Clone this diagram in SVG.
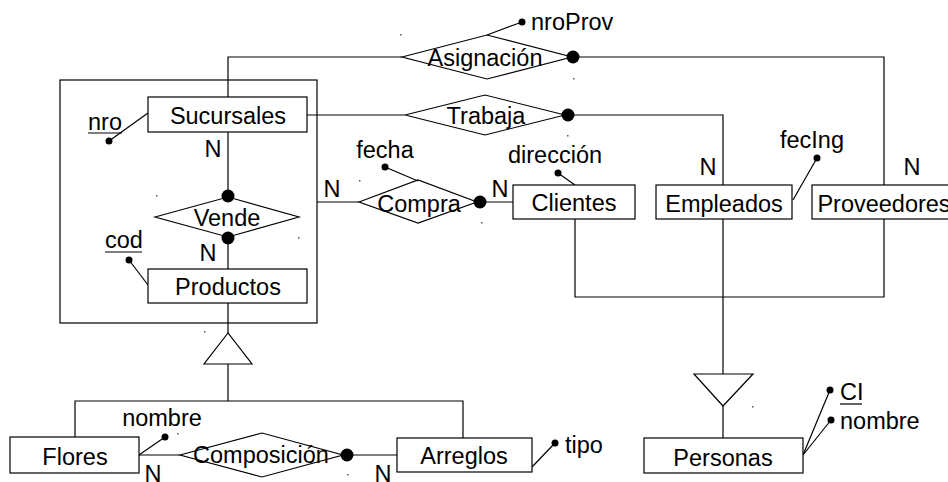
<svg xmlns="http://www.w3.org/2000/svg" width="948" height="482" viewBox="0 0 948 482">
<style>
text{font-family:"Liberation Sans",Arial,sans-serif;font-size:23.5px;fill:#000}
.c{text-anchor:middle}
.box{fill:#fff;stroke:#000;stroke-width:1.2}
.ln{fill:none;stroke:#000;stroke-width:1.2}
.dot{fill:#000}
.sp{fill:#555}
.u{stroke:#000;stroke-width:1.2}
</style>
<rect width="948" height="482" fill="#fff"/>
<g id="aggregation"><rect x="60" y="80" width="257" height="243" class="ln"/></g>
<g id="connectors">
<polyline class="ln" points="228,97 228,57 402,57"/>
<polyline class="ln" points="573,57 884,57 884,185"/>
<line class="ln" x1="307" y1="115" x2="405" y2="115"/>
<polyline class="ln" points="568,115 723,115 723,185"/>
<line class="ln" x1="228" y1="132" x2="228" y2="196"/>
<line class="ln" x1="228" y1="238" x2="228" y2="269"/>
<line class="ln" x1="317" y1="202" x2="359" y2="202"/>
<line class="ln" x1="480" y1="202" x2="513" y2="202"/>
<line class="ln" x1="228" y1="303" x2="228" y2="333"/>
<polyline class="ln" points="228,364 228,401"/>
<polyline class="ln" points="75,437 75,401 463,401 463,438"/>
<line class="ln" x1="139" y1="455" x2="180" y2="455"/>
<line class="ln" x1="347" y1="455" x2="397" y2="455"/>
<polyline class="ln" points="575,219 575,297 884,297 884,219"/>
<line class="ln" x1="723" y1="219" x2="723" y2="374"/>
<line class="ln" x1="723" y1="406" x2="723" y2="438"/>
<polygon class="ln" points="228,333 204,364 252,364"/>
<polygon class="ln" points="694,374 753,374 723,406"/>
<line class="ln" x1="487" y1="35" x2="522" y2="22"/>
<line class="ln" x1="109" y1="141" x2="148" y2="113"/>
<line class="ln" x1="129" y1="260" x2="148" y2="285"/>
<line class="ln" x1="385" y1="167" x2="418" y2="181"/>
<line class="ln" x1="558" y1="173" x2="575" y2="185"/>
<line class="ln" x1="817" y1="158" x2="793" y2="200"/>
<line class="ln" x1="165" y1="437" x2="139" y2="455"/>
<line class="ln" x1="555" y1="443" x2="532" y2="467"/>
<line class="ln" x1="830" y1="390" x2="803" y2="455"/>
<line class="ln" x1="831" y1="420" x2="803" y2="455"/>
<circle class="dot" cx="573" cy="57" r="6.5"/>
<circle class="dot" cx="568" cy="115" r="6.5"/>
<circle class="dot" cx="228" cy="196" r="6.5"/>
<circle class="dot" cx="228" cy="238" r="6.5"/>
<circle class="dot" cx="480" cy="202" r="6.5"/>
<circle class="dot" cx="347" cy="455" r="6.5"/>
<circle class="dot" cx="522" cy="22" r="3.5"/>
<circle class="dot" cx="109" cy="141" r="3.5"/>
<circle class="dot" cx="129" cy="260" r="3.5"/>
<circle class="dot" cx="385" cy="167" r="3.5"/>
<circle class="dot" cx="558" cy="173" r="3.5"/>
<circle class="dot" cx="817" cy="158" r="3.5"/>
<circle class="dot" cx="165" cy="437" r="3.5"/>
<circle class="dot" cx="555" cy="443" r="3.5"/>
<circle class="dot" cx="830" cy="390" r="3.5"/>
<circle class="dot" cx="831" cy="420" r="3.5"/>
<text class="c" x="213" y="157">N</text>
<text class="c" x="208" y="261">N</text>
<text class="c" x="332" y="197">N</text>
<text class="c" x="500" y="197">N</text>
<text class="c" x="708" y="175">N</text>
<text class="c" x="912" y="175">N</text>
<text class="c" x="153" y="482">N</text>
<text class="c" x="383" y="482">N</text>
</g>
<g id="specks">
<rect class="sp" x="400" y="34" width="1.5" height="1.5"/>
<rect class="sp" x="573" y="78" width="1.5" height="1.5"/>
<rect class="sp" x="359" y="180" width="1.5" height="1.5"/>
<rect class="sp" x="481" y="222" width="1.5" height="1.5"/>
<rect class="sp" x="567" y="135" width="1.5" height="1.5"/>
<rect class="sp" x="156" y="195" width="1.5" height="1.5"/>
<rect class="sp" x="298" y="237" width="1.5" height="1.5"/>
<rect class="sp" x="204" y="331" width="1.5" height="1.5"/>
<rect class="sp" x="177" y="433" width="1.5" height="1.5"/>
<rect class="sp" x="347" y="474" width="1.5" height="1.5"/>
<rect class="sp" x="752" y="406" width="1.5" height="1.5"/>
</g>
<g id="Asignacion"><polygon class="ln" points="402,57 487,35 572,57 487,79"/><text class="c" x="485" y="66">Asignación</text></g>
<g id="nroProv"><text x="531" y="30">nroProv</text></g>
<g id="Trabaja"><polygon class="ln" points="405,115 485,95 565,115 485,135"/><text class="c" x="486" y="124">Trabaja</text></g>
<g id="Sucursales"><rect class="box" x="148" y="97" width="159" height="35"/><text class="c" x="228" y="124">Sucursales</text></g>
<g id="nro"><text x="88" y="130">nro</text><line class="u" x1="88" y1="133" x2="122" y2="133"/></g>
<g id="Vende"><polygon class="ln" points="155,217 228,197 299,217 228,237"/><text class="c" x="227" y="226">Vende</text></g>
<g id="Productos"><rect class="box" x="148" y="269" width="159" height="34"/><text class="c" x="228" y="295">Productos</text></g>
<g id="cod"><text x="105" y="248">cod</text><line class="u" x1="105" y1="252" x2="142" y2="252"/></g>
<g id="Compra"><polygon class="ln" points="359,202 418,180 477,202 418,223"/><text class="c" x="419" y="212">Compra</text></g>
<g id="fecha"><text class="c" x="385" y="158">fecha</text></g>
<g id="Clientes"><rect class="box" x="513" y="185" width="122" height="34"/><text class="c" x="574" y="211">Clientes</text></g>
<g id="direccion"><text class="c" x="555" y="163">dirección</text></g>
<g id="Empleados"><rect class="box" x="656" y="185" width="136" height="34"/><text class="c" x="724" y="212">Empleados</text></g>
<g id="fecIng"><text class="c" x="812" y="148">fecIng</text></g>
<g id="Proveedores"><rect class="box" x="812" y="185" width="146" height="34"/><text class="c" x="884" y="212">Proveedores</text></g>
<g id="Personas"><rect class="box" x="644" y="438" width="159" height="35"/><text class="c" x="723" y="466">Personas</text></g>
<g id="CI"><text x="840" y="400">CI</text><line class="u" x1="840" y1="404" x2="862" y2="404"/></g>
<g id="nombrePersonas"><text x="840" y="429">nombre</text></g>
<g id="Flores"><rect class="box" x="10" y="437" width="129" height="36"/><text class="c" x="75" y="465">Flores</text></g>
<g id="nombreFlores"><text class="c" x="162" y="426">nombre</text></g>
<g id="Composicion"><polygon class="ln" points="180,455 262,433 343,455 262,477"/><text class="c" x="261" y="463">Composición</text></g>
<g id="Arreglos"><rect class="box" x="397" y="438" width="135" height="34"/><text class="c" x="464" y="464">Arreglos</text></g>
<g id="tipo"><text x="565" y="453">tipo</text></g>
</svg>
